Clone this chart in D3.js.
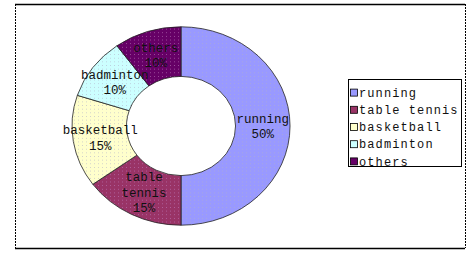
<!DOCTYPE html>
<html>
<head>
<meta charset="utf-8">
<script src="https://cdn.jsdelivr.net/npm/d3@7"></script>
<style>
  body { margin: 0; background: #fff; }
  svg { display: block; }
</style>
</head>
<body>
<div id="chart"></div>
<script>
// chart data
const categories = ["running", "table tennis", "basketball", "badminton", "others"];
const shares = [50, 15, 15, 10, 10];
const sliceLabels = [["running", "50%"], ["table", "tennis", "15%"], ["basketball", "15%"], ["badminton", "10%"], ["others", "10%"]];
const colors = ["#9999ff", "#993366", "#ffffcc", "#ccffff", "#660066"];

const W = 473, H = 253;
const cx = 181, cy = 126;
const outerR = 109, innerR = 54.5, squash = 0.91;

const svg = d3.select("#chart").append("svg")
    .attr("width", W)
    .attr("height", H);

// dotted fill like the old office chart
const defs = svg.append("defs");
colors.forEach((c, i) => {
    const p = defs.append("pattern")
        .attr("id", "pat" + i)
        .attr("width", 4).attr("height", 4)
        .attr("patternUnits", "userSpaceOnUse");
    p.append("rect").attr("width", 4).attr("height", 4).attr("fill", c);
    p.append("rect").attr("x", 1).attr("y", 1).attr("width", 1).attr("height", 1)
        .attr("fill", i === 1 || i === 4 ? "#c080c0" : "#b0b0c8").attr("opacity", 0.6);
});

// frame: solid top/bottom, dashed sides
svg.append("line").attr("x1", 15).attr("x2", 465).attr("y1", 4.5).attr("y2", 4.5)
    .attr("stroke", "#000").attr("stroke-width", 1.5);
svg.append("line").attr("x1", 15).attr("x2", 465).attr("y1", 248.5).attr("y2", 248.5)
    .attr("stroke", "#000").attr("stroke-width", 1.5);
[15.5, 465.5].forEach(x => {
    svg.append("line").attr("x1", x).attr("x2", x).attr("y1", 4).attr("y2", 248)
        .attr("stroke", "#000").attr("stroke-width", 1).attr("stroke-dasharray", "2,1");
});

const pie = d3.pie().sort(null).value(d => d);
const arcs = pie(shares);
const arc = d3.arc().innerRadius(innerR).outerRadius(outerR);
const midArc = d3.arc().innerRadius((innerR + outerR) / 2).outerRadius((innerR + outerR) / 2);

const g = svg.append("g")
    .attr("transform", `translate(${cx},${cy}) scale(1,${squash})`);

g.selectAll("path")
    .data(arcs)
    .enter()
    .append("path")
    .attr("d", arc)
    .attr("fill", (d, i) => `url(#pat${i})`)
    .attr("stroke", "#222")
    .attr("stroke-width", 0.8)
    .attr("vector-effect", "non-scaling-stroke");

// slice labels
const labels = svg.append("g")
    .attr("font-family", "'Liberation Mono', 'DejaVu Sans Mono', monospace")
    .attr("font-size", 12.5)
    .attr("fill", "#111")
    .attr("text-anchor", "middle");

arcs.forEach((d, i) => {
    const [mx, my] = midArc.centroid(d);
    const lines = sliceLabels[i];
    const lh = 15.5;
    const y0 = cy + my * squash - (lines.length - 1) * lh / 2;
    const t = labels.append("text")
        .attr("x", cx + mx)
        .attr("y", y0)
        .attr("dy", "0.35em");
    lines.forEach((s, k) => {
        t.append("tspan").attr("x", cx + mx).attr("y", y0 + k * lh).attr("dy", "0.35em").text(s);
    });
});

// legend
const legend = svg.append("g").attr("transform", "translate(348,79)");
legend.append("rect")
    .attr("x", 0.5).attr("y", 0.5)
    .attr("width", 113).attr("height", 87)
    .attr("fill", "#fff")
    .attr("stroke", "#000");

const rowY = d3.scaleBand().domain(categories).range([5, 91]);

const items = legend.selectAll(".item")
    .data(categories)
    .enter()
    .append("g")
    .attr("class", "item")
    .attr("transform", d => `translate(0,${rowY(d) + rowY.bandwidth() / 2})`);

items.append("rect")
    .attr("x", 2.5).attr("y", -3.5)
    .attr("width", 7).attr("height", 7)
    .attr("fill", (d, i) => colors[i])
    .attr("stroke", "#000")
    .attr("stroke-width", 0.8);

items.append("text")
    .attr("x", 11)
    .attr("y", 0)
    .attr("dy", "0.35em")
    .attr("font-family", "'Liberation Mono', 'DejaVu Sans Mono', monospace")
    .attr("font-size", 12)
    .attr("letter-spacing", 1.1)
    .attr("fill", "#111")
    .text(d => d);
</script>
</body>
</html>
